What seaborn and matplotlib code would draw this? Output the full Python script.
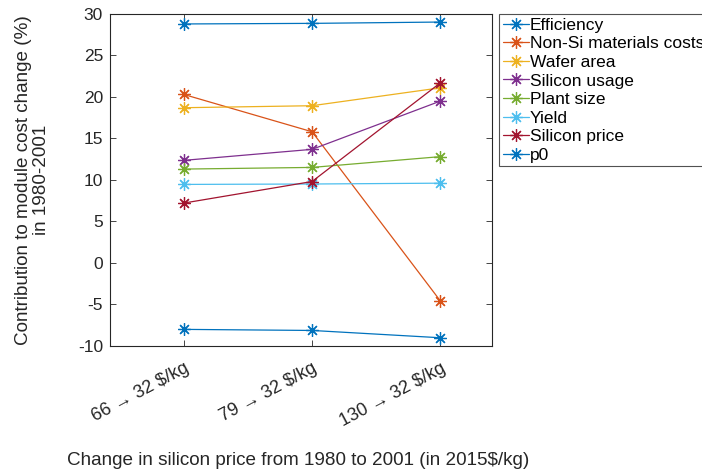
import matplotlib
matplotlib.use("Agg")
import matplotlib.pyplot as plt
import seaborn as sns
import pandas as pd

categories = ["66 \u2192 32 $/kg", "79 \u2192 32 $/kg", "130 \u2192 32 $/kg"]
series_names = ["Efficiency", "Non-Si materials costs", "Wafer area", "Silicon usage",
                "Plant size", "Yield", "Silicon price", "p0"]
efficiency = [28.8, 28.87, 29.03]
non_si = [20.3, 15.8, -4.6]
wafer_area = [18.7, 18.94, 21.1]
silicon_usage = [12.35, 13.68, 19.5]
plant_size = [11.3, 11.5, 12.8]
yield_vals = [9.45, 9.5, 9.6]
silicon_price = [7.2, 9.8, 21.7]
p0 = [-8.03, -8.16, -9.04]
y_ticks = [-10, -5, 0, 5, 10, 15, 20, 25, 30]

colors = ["#0072BD", "#D95319", "#EDB120", "#7E2F8E", "#77AC30", "#4DBEEE", "#A2142F", "#0072BD"]
all_vals = [efficiency, non_si, wafer_area, silicon_usage, plant_size, yield_vals, silicon_price, p0]

rows = []
for name, vals in zip(series_names, all_vals):
    for i, v in enumerate(vals):
        rows.append({"series": name, "x": i + 1, "value": v})
df = pd.DataFrame(rows)

sns.set_theme(style="white")
plt.rcParams["font.family"] = ["Liberation Sans", "DejaVu Sans"]
txt = "#262626"

fig = plt.figure(figsize=(7.02, 4.73), dpi=100)
ax = fig.add_axes([0.1567, 0.2691, 0.5437, 0.7013])

asterisk = (8, 2, 0)
for name, col in zip(series_names, colors):
    sub = df[df["series"] == name]
    sns.lineplot(data=sub, x="x", y="value", ax=ax, color=col, linewidth=0.9,
                 marker=asterisk, markersize=9, markeredgewidth=0.9,
                 markeredgecolor=col, label=name, estimator=None, sort=False)

ax.set_xlim(0.425, 3.40)
ax.set_ylim(-10, 30)
ax.set_yticks(y_ticks)
ax.set_yticklabels([str(t) for t in y_ticks], fontsize=12.5, color=txt)
ax.set_xticks([1, 2, 3])
ax.set_xticklabels(categories, fontsize=13, color=txt, rotation=28,
                   ha="right", rotation_mode="anchor")
ax.tick_params(axis="x", pad=10)
ax.tick_params(axis="y", pad=5)
ax.tick_params(direction="in", length=4, width=0.6, color=txt,
               top=True, right=True, bottom=True, left=True)
for s in ax.spines.values():
    s.set_color(txt)
    s.set_linewidth(0.8)

ax.set_xlabel("")
fig.text(298 / 702, 1 - 460 / 473, "Change in silicon price from 1980 to 2001 (in 2015$/kg)",
         fontsize=13.6, color=txt, ha="center", va="center")
ax.set_ylabel("Contribution to module cost change (%)\nin 1980-2001", fontsize=13.6,
              color=txt, ha="center", va="center", linespacing=1.1)
ax.yaxis.set_label_coords(-0.203, 0.5)

leg = ax.legend(loc="upper left", bbox_to_anchor=(1.02, 1.0), fontsize=12.5,
                frameon=True, fancybox=False, edgecolor=txt, handlelength=1.5,
                handletextpad=0.05, labelspacing=0.2, borderpad=0.2,
                borderaxespad=0.0)
leg.get_frame().set_linewidth(0.8)
for t in leg.get_texts():
    t.set_color("black")

fig.savefig("out.png", dpi=100)
